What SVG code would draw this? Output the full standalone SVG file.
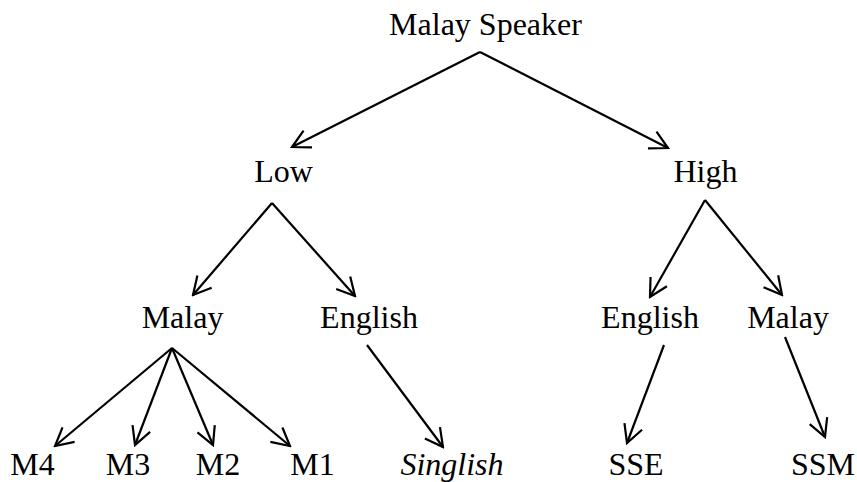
<svg xmlns="http://www.w3.org/2000/svg" width="857" height="482" viewBox="0 0 857 482">
<style>
text{font-family:"Liberation Serif","Times New Roman",serif;font-size:32px;fill:#000;text-anchor:middle}
.it{font-style:italic}
#connectors line{stroke:#000;stroke-width:2.2;fill:none;marker-end:url(#ah)}
</style>
<defs>
<marker id="ah" viewBox="-20 -12 22 24" refX="0" refY="0" markerWidth="22" markerHeight="24" markerUnits="userSpaceOnUse" orient="auto">
<path d="M-17.7,-9.4 L0,0 L-17.7,9.4" fill="none" stroke="#000" stroke-width="2.2" stroke-linejoin="miter"/>
</marker>
</defs>
<rect width="857" height="482" fill="#fff"/>
<g id="connectors">
<line x1="480" y1="52" x2="292" y2="147"/>
<line x1="480" y1="52" x2="668" y2="148"/>
<line x1="272" y1="203" x2="193" y2="295"/>
<line x1="272" y1="203" x2="355" y2="296"/>
<line x1="705" y1="200" x2="650" y2="297"/>
<line x1="705" y1="200" x2="782" y2="295"/>
<line x1="172" y1="348" x2="55" y2="446"/>
<line x1="172" y1="348" x2="135" y2="445"/>
<line x1="172" y1="348" x2="213" y2="445"/>
<line x1="172" y1="348" x2="290" y2="446"/>
<line x1="367" y1="345" x2="443" y2="447"/>
<line x1="664" y1="345" x2="627" y2="443"/>
<line x1="785" y1="337" x2="825" y2="437"/>
</g>
<g id="n-speaker"><text x="485.5" y="35">Malay Speaker</text></g>
<g id="n-low"><text x="283.5" y="182">Low</text></g>
<g id="n-high"><text x="705.5" y="182">High</text></g>
<g id="n-low-malay"><text x="182.5" y="328">Malay</text></g>
<g id="n-low-english"><text x="369" y="328">English</text></g>
<g id="n-high-english"><text x="650" y="328">English</text></g>
<g id="n-high-malay"><text x="788" y="328">Malay</text></g>
<g id="n-m4"><text x="32.5" y="475">M4</text></g>
<g id="n-m3"><text x="128" y="475">M3</text></g>
<g id="n-m2"><text x="218" y="475">M2</text></g>
<g id="n-m1"><text x="312.5" y="475">M1</text></g>
<g id="n-singlish"><text class="it" x="452" y="475">Singlish</text></g>
<g id="n-sse"><text x="636" y="475">SSE</text></g>
<g id="n-ssm"><text x="823" y="475">SSM</text></g>
</svg>
